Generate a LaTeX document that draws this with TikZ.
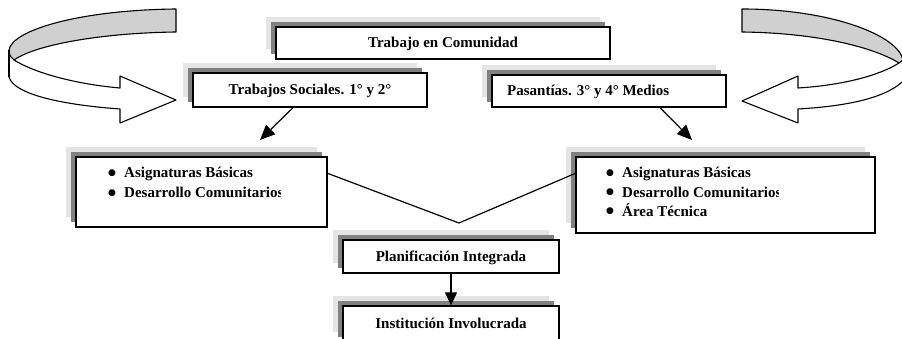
\documentclass[tikz,border=0pt]{standalone}
\usepackage{fontspec}
\setmainfont{Liberation Serif}
\newfontfamily\symfont{DejaVu Sans}
\usetikzlibrary{shadows,arrows.meta}
\definecolor{shdark}{HTML}{808080}
\definecolor{shlight}{HTML}{E4E4E4}
\definecolor{ribbon}{HTML}{D0D0D0}
\newcommand{\blt}{\makebox[16pt][l]{\symfont\fontsize{9}{9}\selectfont\raisebox{2.5pt}{●}}}
\begin{document}
\begin{tikzpicture}[x=1pt,y=-1pt,
  box/.style={draw=black, line width=1.3pt, fill=white, rectangle, inner sep=0pt,
     copy shadow={shadow xshift=-10.5pt, shadow yshift=10pt, fill=shlight, draw=none},
     copy shadow={shadow xshift=-5.5pt, shadow yshift=5pt, fill=shdark, draw=none}},
  lbl/.style={inner sep=0pt, anchor=base, font=\fontsize{15}{17}\selectfont\bfseries},
  itemtxt/.style={lbl, anchor=base west},
  conn/.style={line width=1.2pt, -{Triangle[length=15pt,width=13pt]}},
  rib/.style={line width=1.1pt, line join=round}]
\useasboundingbox (0,0) rectangle (902,339);
\clip (0,0) rectangle (902,339);
\fill[white] (0,0) rectangle (902,339);

% left ribbon arrow
\filldraw[rib, fill=ribbon] (176,9) .. controls (80,10) and (12,30) .. (9,50)
   .. controls (9,55) and (11,58) .. (14,60) .. controls (35,45) and (100,33) .. (176,32) -- cycle;
\draw[rib] (9,50) -- (9,77);
\draw[rib] (14,60) .. controls (35,73) and (75,84) .. (120,88) -- (120,76) -- (176,100)
   -- (120,123) -- (120,109) .. controls (65,105) and (14,95) .. (9,77);

% right ribbon arrow
\filldraw[rib, fill=ribbon] (742,9) .. controls (830,9) and (898,35) .. (903,60)
   -- (899,63) .. controls (875,48) and (820,33) .. (742,32) -- cycle;
\draw[rib] (899,63) .. controls (880,75) and (845,85) .. (798,88) -- (798,76) -- (742,101)
   -- (798,123) -- (798,109) .. controls (850,106) and (890,97) .. (906,78);

% boxes
\node[box, minimum width=334pt, minimum height=32pt] (top) at (443,43) {};
\node[box, minimum width=234pt, minimum height=34pt] (tsoc) at (310,90) {};
\node[box, minimum width=234pt, minimum height=32pt] (pas) at (609,91) {};
\node[box, minimum width=251pt, minimum height=70pt] (lbox) at (201.5,192) {};
\node[box, minimum width=299pt, minimum height=76pt] (rbox) at (725.5,195) {};
\node[box, minimum width=216pt, minimum height=33pt] (plan) at (451,256.5) {};
\node[box, minimum width=216pt, minimum height=36pt] (inst) at (451,324) {};

% texts
\node[lbl] (ttop) at (443,48) {Trabajo en Comunidad};
\node[lbl] (ttsoc) at (310,95) {Trabajos Sociales. 1° y 2°};
\node[itemtxt] (tpas) at (507,96) {Pasantías. 3° y 4° Medios};
\node[lbl] (tplan) at (451,261) {Planificación Integrada};
\node[lbl] (tinst) at (451,328) {Institución Involucrada};

\node[itemtxt] (l1) at (108,178) {\blt Asignaturas Básicas};
\begin{scope}
\clip (100,180) rectangle (280,205);
\node[itemtxt] (l2) at (108,198) {\blt Desarrollo Comunitarios};
\end{scope}
\node[itemtxt] (r1) at (606,178) {\blt Asignaturas Básicas};
\begin{scope}
\clip (600,180) rectangle (778,203);
\node[itemtxt] (r2) at (606,197) {\blt Desarrollo Comunitarios};
\end{scope}
\node[itemtxt] (r3) at (606,216) {\blt Área Técnica};

% connectors
\coordinate (vtip) at (459,223);
\draw[line width=1.2pt] ([yshift=-17pt]lbox.north east) -- (vtip) -- ([yshift=-17pt]rbox.north west);
\coordinate (ta) at (260,140);
\coordinate (pa) at (692,140);
\draw[conn] ([xshift=-17pt]tsoc.south) -- (ta);
\draw[conn] ([xshift=51pt]pas.south) -- (pa);
\draw[line width=1.2pt, -{Triangle[length=13pt,width=12pt]}] (plan.south) -- (inst.north);
\end{tikzpicture}
\end{document}
